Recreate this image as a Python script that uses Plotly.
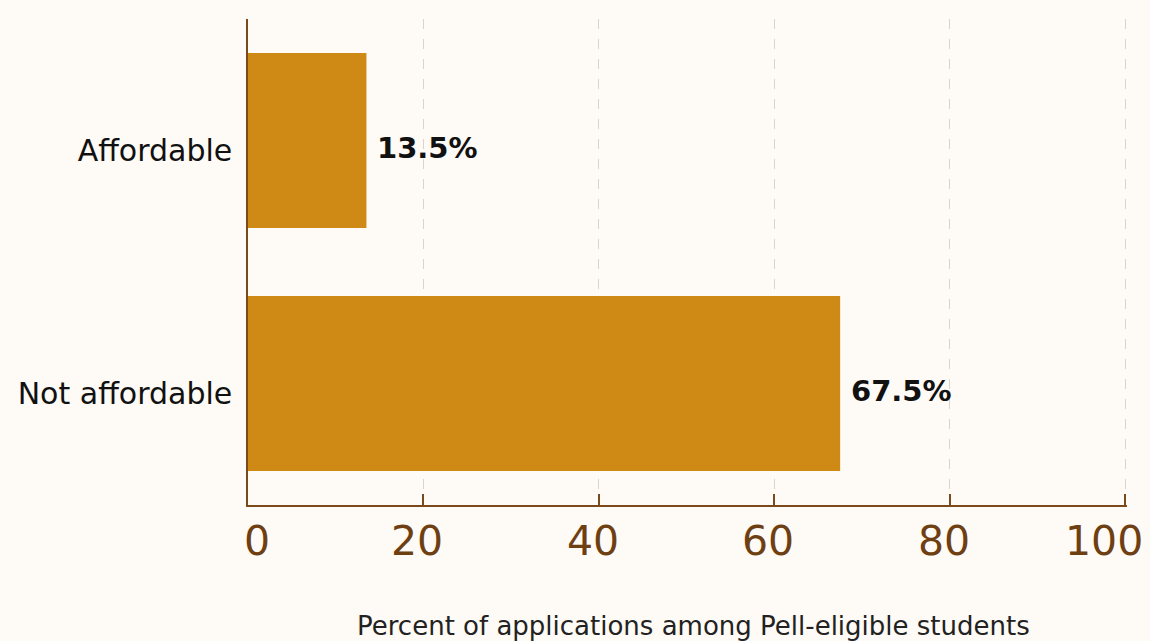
import plotly.graph_objects as go

# Share of applications among Pell-eligible students, by affordability
categories = ["Affordable", "Not affordable"]
shares = [13.5, 67.5]
x_ticks = [0, 20, 40, 60, 80, 100]
x_tick_labels = ["0", "20", "40", "60", "80", "100"]
axis_title = "Percent of applications among Pell-eligible students"

BG = "#FEFAF5"
BAR = "#CF8A16"
BROWN = "#6E3F12"
AXIS = "#7A4A1C"
GRID = "#DAD5CC"
FONT = "'DejaVu Sans', sans-serif"

fig = go.Figure(
    go.Bar(
        x=shares,
        y=categories,
        orientation="h",
        marker=dict(color=BAR, line=dict(width=0)),
        hoverinfo="skip",
    )
)

# value labels just past the end of each bar
for cat, val in zip(categories, shares):
    fig.add_annotation(
        x=val, y=cat, xref="x", yref="y",
        text=f"<b>{val:.1f}%</b>",
        showarrow=False, xanchor="left", yanchor="middle", xshift=9, yshift=-7,
        font=dict(family=FONT, size=29, color="#111111"),
    )

# large x tick labels, the outer ones kept inside the canvas
for val, lab in zip(x_ticks, x_tick_labels):
    if val == x_ticks[0]:
        anchor, shift = "left", -6
    elif val == x_ticks[-1]:
        anchor, shift = "right", 20
    else:
        anchor, shift = "center", -6
    fig.add_annotation(
        x=val, y=0, xref="x", yref="paper",
        text=lab, showarrow=False,
        xanchor=anchor, yanchor="middle", xshift=shift, yshift=-36,
        font=dict(family=FONT, size=41, color=BROWN),
    )

fig.add_annotation(
    x=0.5, y=0, xref="paper", yref="paper",
    text=axis_title, showarrow=False,
    xanchor="center", yanchor="middle", yshift=-121, xshift=6,
    font=dict(family=FONT, size=26, color="#222222"),
)

fig.update_layout(
    width=1150, height=641,
    margin=dict(l=248, r=23, t=19, b=136),
    paper_bgcolor=BG, plot_bgcolor=BG,
    bargap=0.28,
    showlegend=False,
    font=dict(family=FONT),
)

fig.update_xaxes(
    range=[0, 100.2],
    tickvals=x_ticks,
    showticklabels=False,
    ticks="inside", ticklen=11, tickcolor=AXIS, tickwidth=1.5,
    showline=True, linecolor=AXIS, linewidth=1.5,
    showgrid=True, gridcolor=GRID, gridwidth=1, griddash="10px,10px",
    zeroline=False,
    fixedrange=True,
)

fig.update_yaxes(
    autorange="reversed",
    showline=True, linecolor=AXIS, linewidth=1.5,
    showgrid=False, zeroline=False,
    ticks="", ticklabelstandoff=8, ticklabelshift=-10,
    tickfont=dict(family=FONT, size=30, color="#111111"),
    fixedrange=True,
)

fig.write_html("out.html")
